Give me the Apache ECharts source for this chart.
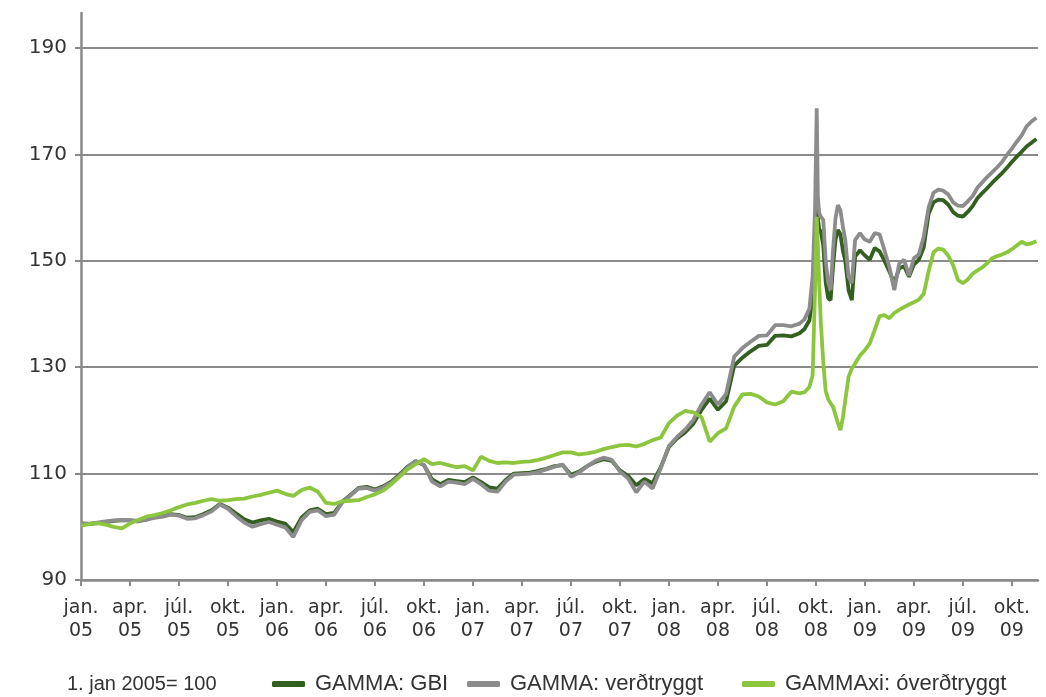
<!DOCTYPE html>
<html>
<head>
<meta charset="utf-8">
<script src="https://cdn.jsdelivr.net/npm/echarts@6/dist/echarts.min.js"></script>
<style>
html,body{margin:0;padding:0;background:#fff;}
#chart{width:1046px;height:697px;}
</style>
</head>
<body>
<div id="chart"></div>
<script>
// months since 1 Jan 2005
const months = [0,0.5,1,1.5,2,2.5,3,3.5,4,4.5,5,5.5,6,6.5,7,7.5,8,8.5,9,9.5,10,10.5,11,11.5,12,12.5,13,13.5,14,14.5,15,15.5,16,16.5,17,17.5,18,18.5,19,19.5,20,20.5,21,21.5,22,22.5,23,23.5,24,24.5,25,25.5,26,26.5,27,27.5,28,28.5,29,29.5,30,30.5,31,31.5,32,32.5,33,33.5,34,34.5,35,35.5,36,36.5,37,37.5,38,38.5,39,39.5,40,40.5,41,41.5,42,42.5,43,43.5,44,44.3,44.6,44.8,44.95,45.05,45.12,45.2,45.3,45.45,45.6,45.75,45.9,46.05,46.2,46.35,46.5,46.65,46.8,47.0,47.2,47.4,47.7,48,48.3,48.6,48.9,49.2,49.5,49.8,50.1,50.4,50.7,51,51.3,51.6,51.9,52.2,52.5,52.8,53.1,53.4,53.7,54,54.3,54.6,54.9,55.2,55.5,55.8,56.1,56.4,56.7,57,57.3,57.6,57.9,58.2,58.5];

const gbi = [100.5,100.5,100.7,100.9,101.1,101.2,101.2,101.1,101.4,101.8,102.0,102.4,102.2,101.7,101.8,102.4,103.1,104.3,103.6,102.5,101.4,100.8,101.2,101.5,101.0,100.6,99.0,101.7,103.1,103.4,102.4,102.6,104.7,106.0,107.3,107.5,107.0,107.6,108.5,109.8,111.3,112.3,111.6,108.9,108.0,108.8,108.6,108.4,109.3,108.4,107.4,107.2,108.8,110.0,110.1,110.2,110.5,110.9,111.4,111.6,109.8,110.4,111.4,112.2,112.7,112.4,110.6,109.6,107.8,109.0,108.2,111.2,115.0,116.6,117.8,119.4,122.0,124.1,122.0,123.6,130.3,131.8,133.0,134.0,134.2,135.9,136.0,135.8,136.4,137.2,138.8,143,152,163,158,156,155.5,153,146,143,142.6,149,154,155.8,155,152,150,144.5,142.6,150.8,152.0,151.0,150.2,152.4,151.8,150.0,148.0,145.8,148.6,149.0,147.0,149.3,150.2,152.5,158.8,161.0,161.5,161.4,160.6,159.2,158.5,158.3,159.2,160.3,161.8,162.8,163.7,164.7,165.6,166.5,167.5,168.6,169.6,170.5,171.5,172.2,172.9];

const verdtryggt = [100.7,100.6,100.8,101.0,101.2,101.3,101.2,101.0,101.3,101.7,101.9,102.3,102.1,101.5,101.6,102.2,102.9,104.2,103.4,102.0,100.8,100.0,100.5,100.9,100.4,99.9,98.1,101.2,102.8,103.1,102.0,102.3,104.6,105.9,107.2,107.3,106.8,107.4,108.3,109.6,111.2,112.4,111.6,108.5,107.6,108.5,108.3,108.0,109.0,108.0,106.8,106.6,108.5,109.8,109.9,110.0,110.3,110.8,111.3,111.7,109.4,110.2,111.4,112.4,113.0,112.6,110.4,109.1,106.5,108.5,107.2,111.0,115.2,116.9,118.3,120.1,123.0,125.3,123.0,125.0,132.0,133.6,134.8,135.9,136.0,137.9,137.9,137.7,138.2,139.0,141.0,147.0,160,178.7,162,159,158.3,157.7,150,146,144.5,152,158,160.5,159.5,156.5,153.9,147.0,145.8,153.9,155.2,154.0,153.6,155.2,155.0,152.0,148.8,144.5,149.5,150.2,147.2,150.5,151.2,154.5,160.0,162.8,163.4,163.2,162.5,161.0,160.4,160.3,161.2,162.2,163.8,164.8,165.8,166.7,167.6,168.6,169.9,171.1,172.4,173.6,175.3,176.2,176.9];

const overdtryggt = [100.2,100.5,100.7,100.4,100.0,99.7,100.6,101.3,101.9,102.2,102.6,103.1,103.7,104.2,104.5,104.9,105.2,104.9,105.0,105.2,105.3,105.7,106.0,106.4,106.8,106.2,105.8,106.9,107.4,106.6,104.5,104.3,104.8,104.9,105.0,105.6,106.1,106.8,108.0,109.4,110.8,111.8,112.7,111.8,112.0,111.6,111.2,111.4,110.6,113.2,112.4,112.0,112.1,112.0,112.2,112.3,112.6,113.0,113.5,114.0,114.0,113.6,113.8,114.1,114.6,115.0,115.3,115.4,115.1,115.6,116.3,116.8,119.5,120.9,121.8,121.5,120.6,116.0,117.6,118.5,122.6,124.9,125.0,124.5,123.4,123.0,123.6,125.4,125.1,125.3,126.3,128.5,145,158.3,153,146,138.5,131,125.5,124,123.2,122.6,121,119.5,118.2,120.5,123.8,128.2,129.8,130.7,132.2,133.2,134.5,137.0,139.6,139.8,139.2,140.2,140.8,141.3,141.8,142.2,142.7,143.8,148,151.6,152.3,152.1,151.0,149.2,146.4,145.8,146.5,147.6,148.2,148.8,149.6,150.5,150.9,151.2,151.6,152.2,152.9,153.6,153.1,153.3,153.7];

const quarterLabels = ['jan.\n05','apr.\n05','júl.\n05','okt.\n05','jan.\n06','apr.\n06','júl.\n06','okt.\n06','jan.\n07','apr.\n07','júl.\n07','okt.\n07','jan.\n08','apr.\n08','júl.\n08','okt.\n08','jan.\n09','apr.\n09','júl.\n09','okt.\n09'];
const yTickLabels = ['90','110','130','150','170','190'];
const seriesNames = ['GAMMA: GBI','GAMMA: verðtryggt','GAMMAxi: óverðtryggt'];
const baseNote = '1. jan 2005= 100';

const X_MAX = 58.6, X_STEP = 0.2, X_PER_Q = 15;      // 3 months / 0.2
const Y_MIN = 90, Y_MAX = 196.6, Y_STEP = 0.2, Y_PER_T = 100; // 20 / 0.2

const xCats = [];
for (let i = 0; i <= Math.round(X_MAX / X_STEP); i++) xCats.push('x' + i);
const yCats = [];
for (let i = 0; i <= Math.round((Y_MAX - Y_MIN) / Y_STEP); i++) yCats.push('y' + i);

const colors = ['#33601f', '#8c8c8c', '#8cc63e'];
const gridColor = '#8a8a8a';
const textColor = '#333333';

const chart = echarts.init(document.getElementById('chart'));
const mk = (arr) => months.map((m, i) => [m, arr[i]]);
const legendLefts = [267, 462, 737];
const legendText = {fontFamily: 'Liberation Sans', fontSize: 22, color: textColor, padding: [0,0,0,5]};

chart.setOption({
  animation: false,
  backgroundColor: '#ffffff',
  title: {
    text: baseNote, left: 62, top: 669,
    textStyle: {fontFamily: 'Liberation Sans', fontSize: 20, fontWeight: 'normal', color: textColor}
  },
  legend: seriesNames.map((n, k) => ({
    data: [n], left: legendLefts[k], top: 668, itemWidth: 33, itemHeight: 6,
    icon: 'roundRect', textStyle: legendText
  })),
  grid: {left: 81, right: 8, top: 13, bottom: 117, containLabel: false},
  xAxis: [
    {type: 'value', min: 0, max: X_MAX, position: 'bottom',
     axisLine: {show: true, onZero: false, lineStyle: {color: gridColor, width: 2.5}},
     axisTick: {show: false}, axisLabel: {show: false}, splitLine: {show: false}},
    {type: 'category', data: xCats, boundaryGap: false, position: 'bottom',
     axisLine: {show: false, onZero: false},
     axisTick: {show: true, length: 6, interval: (i) => i % X_PER_Q === 0, lineStyle: {color: gridColor, width: 2}},
     axisLabel: {show: true, interval: (i) => i % X_PER_Q === 0, margin: 17,
       formatter: (v, i) => (i % X_PER_Q === 0 ? (quarterLabels[i / X_PER_Q] || '') : ''),
       fontFamily: 'DejaVu Sans', fontSize: 19, lineHeight: 23, color: textColor},
     splitLine: {show: false}}
  ],
  yAxis: [
    {type: 'value', min: Y_MIN, max: Y_MAX, interval: 20, position: 'left',
     axisLine: {show: true, onZero: false, lineStyle: {color: gridColor, width: 2.5}},
     axisTick: {show: false}, axisLabel: {show: false},
     splitLine: {show: true, showMaxLine: false, lineStyle: {color: [gridColor,gridColor,gridColor,gridColor,gridColor,gridColor,'rgba(0,0,0,0)'], width: 2}}},
    {type: 'category', data: yCats, boundaryGap: false, position: 'left',
     axisLine: {show: false, onZero: false},
     axisTick: {show: true, length: 6, interval: (i) => i % Y_PER_T === 0, lineStyle: {color: gridColor, width: 2}},
     axisLabel: {show: true, interval: (i) => i % Y_PER_T === 0, margin: 14,
       formatter: (v, i) => (i % Y_PER_T === 0 ? (yTickLabels[i / Y_PER_T] || '') : ''),
       fontFamily: 'DejaVu Sans', fontSize: 20, color: textColor},
     splitLine: {show: false}}
  ],
  series: [
    {name: seriesNames[0], type: 'line', data: mk(gbi), xAxisIndex: 0, yAxisIndex: 0, showSymbol: false,
     color: colors[0], lineStyle: {width: 3.8, color: colors[0]}, z: 2},
    {name: seriesNames[1], type: 'line', data: mk(verdtryggt), xAxisIndex: 0, yAxisIndex: 0, showSymbol: false,
     color: colors[1], lineStyle: {width: 3.8, color: colors[1]}, z: 3},
    {name: seriesNames[2], type: 'line', data: mk(overdtryggt), xAxisIndex: 0, yAxisIndex: 0, showSymbol: false,
     color: colors[2], lineStyle: {width: 3.8, color: colors[2]}, z: 4}
  ]
});
</script>
</body>
</html>
